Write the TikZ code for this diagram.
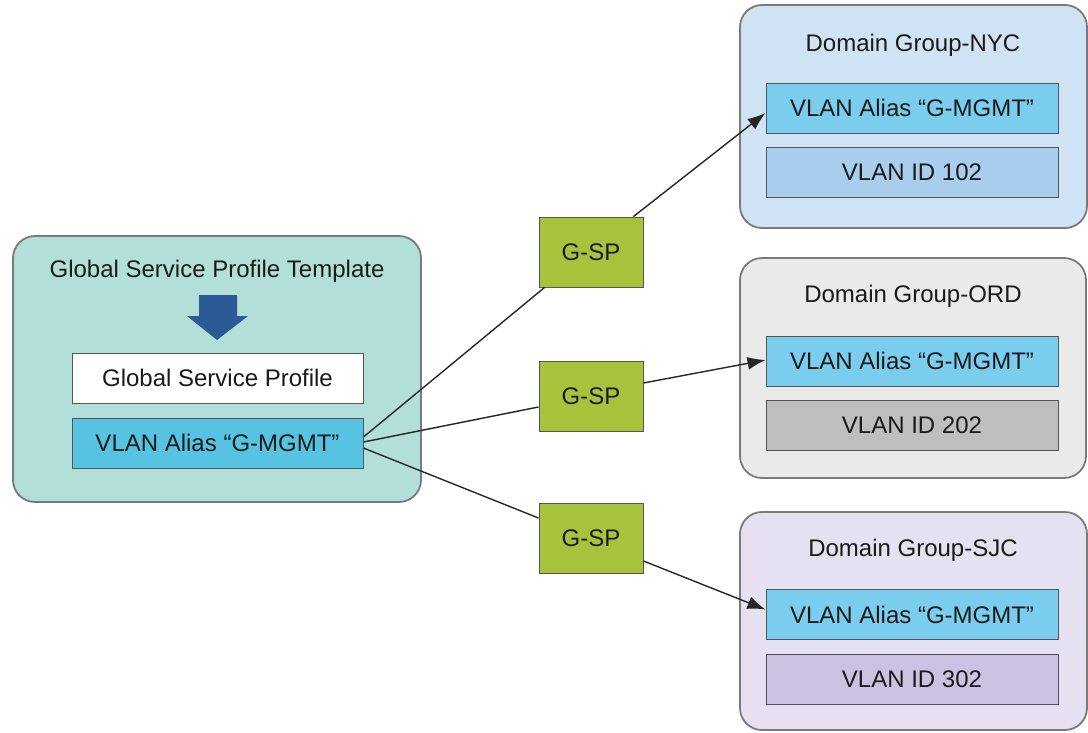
\documentclass[tikz,border=0pt]{standalone}
\usepackage{fontspec}
\setmainfont{Liberation Sans}
\usetikzlibrary{calc,arrows.meta}
\definecolor{tealbg}{HTML}{B3DFD9}
\definecolor{aliasL}{HTML}{56C3E2}
\definecolor{aliasR}{HTML}{7BCDEE}
\definecolor{nycbg}{HTML}{CFE3F4}
\definecolor{nycid}{HTML}{A9CDEC}
\definecolor{ordbg}{HTML}{E9EAE9}
\definecolor{ordid}{HTML}{BEBEBE}
\definecolor{sjcbg}{HTML}{E6E1F1}
\definecolor{sjcid}{HTML}{CBC2E2}
\definecolor{gspgreen}{HTML}{A9C23B}
\definecolor{outline}{HTML}{7A7A7A}
\definecolor{inline}{HTML}{555555}
\definecolor{txt}{HTML}{1A1A1A}
\definecolor{arrowblue}{HTML}{2D5996}
\tikzset{
  every node/.style={font=\fontsize{24}{28}\selectfont, text=txt},
  group/.style={draw=outline, line width=1.8pt, rounded corners=22pt, inner sep=0pt},
  inbox/.style={draw=inline, line width=1pt, inner sep=0pt, minimum width=291pt, minimum height=50pt},
  gsp/.style={draw=inline, line width=1pt, fill=gspgreen, inner sep=0pt, minimum width=104pt, minimum height=70pt},
  title/.style={inner sep=0pt},
  link/.style={draw=black!85, line width=1.4pt},
  arr/.style={link, -{Latex[length=18pt,width=13pt]}},
}
\begin{document}
\begin{tikzpicture}[x=1pt,y=-1pt]
\useasboundingbox (0,0) rectangle (1088,732);
% left group
\node[group, fill=tealbg, minimum width=408pt, minimum height=266pt] (tpl) at (217,369) {};
\node[title] (tpltitle) at (217,271) {Global Service Profile Template};
\fill[arrowblue] (199,295) -- (237,295) -- (237,316) -- (248,316) -- (217,340) -- (187,316) -- (199,316) -- cycle;
\node[inbox, fill=white] (gsprof) at (217.5,378) {Global Service Profile};
\node[inbox, fill=aliasL] (la) at (217.5,443) {VLAN Alias “G-MGMT”};
% G-SP nodes
\node[gsp] (g1) at (591,252) {G-SP};
\node[gsp] (g2) at (591,396) {G-SP};
\node[gsp] (g3) at (591,538) {G-SP};
% NYC
\node[group, fill=nycbg, minimum width=347pt, minimum height=223pt] (nyc) at (913.5,116.5) {};
\node[title] (nyct) at (913,45) {Domain Group-NYC};
\node[inbox, fill=aliasR, minimum width=292pt] (nyca) at (912,108) {VLAN Alias “G-MGMT”};
\node[inbox, fill=nycid, minimum width=292pt] (nycid) at (912,172) {VLAN ID 102};
% ORD
\node[group, fill=ordbg, minimum width=346pt, minimum height=220pt] (ord) at (913,368) {};
\node[title] (ordt) at (913,296) {Domain Group-ORD};
\node[inbox, fill=aliasR, minimum width=292pt] (orda) at (912,361) {VLAN Alias “G-MGMT”};
\node[inbox, fill=ordid, minimum width=292pt] (ordid) at (912,425.5) {VLAN ID 202};
% SJC
\node[group, fill=sjcbg, minimum width=347pt, minimum height=218pt] (sjc) at (913.5,621) {};
\node[title] (sjct) at (913,550) {Domain Group-SJC};
\node[inbox, fill=aliasR, minimum width=292pt] (sjca) at (912,614.5) {VLAN Alias “G-MGMT”};
\node[inbox, fill=sjcid, minimum width=292pt] (sjcid) at (912,679) {VLAN ID 302};
% connectors
\draw[link] ($(la.east)+(0,-6)$) -- ($(g1.south west)+(6,0)$);
\draw[link] ($(la.east)+(0,-1)$) -- ($(g2.west)+(0,11)$);
\draw[link] ($(la.east)+(0,5)$) -- ($(g3.west)+(0,-20)$);
\draw[arr] ($(g1.north east)+(-10,0)$) -- ($(nyca.west)+(0,5)$);
\draw[arr] ($(g2.east)+(0,-13)$) -- ($(orda.west)+(0,-1)$);
\draw[arr] ($(g3.east)+(0,23)$) -- ($(sjca.west)+(0,-5)$);
\end{tikzpicture}
\end{document}
